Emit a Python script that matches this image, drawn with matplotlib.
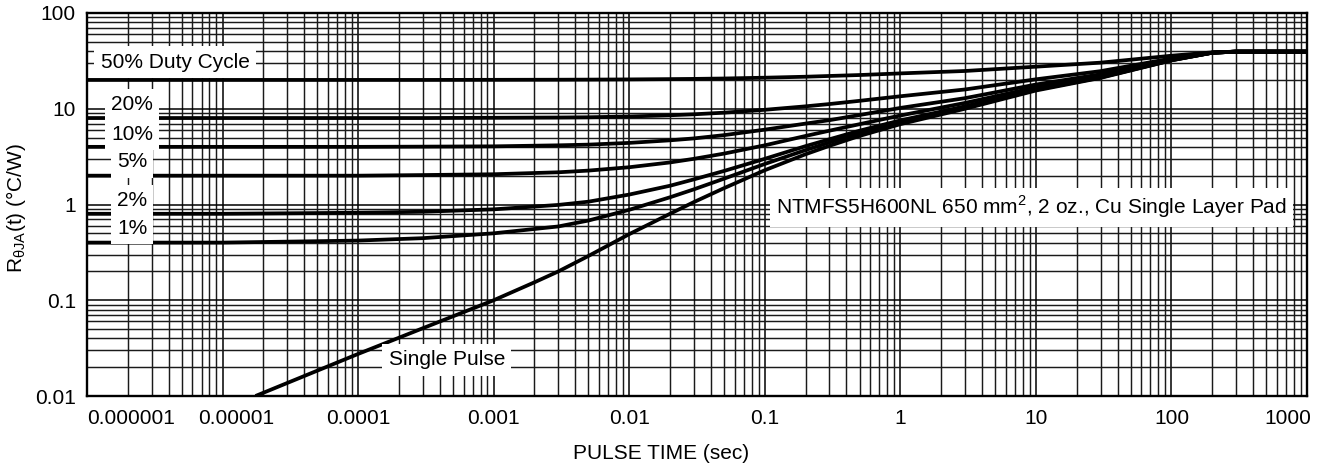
import matplotlib

matplotlib.use("Agg")

import matplotlib.pyplot as plt
import matplotlib.transforms as mtransforms
import numpy as np
from matplotlib.ticker import FixedLocator, LogLocator, NullFormatter

plt.rcParams["font.family"] = ["Liberation Sans", "DejaVu Sans"]
plt.rcParams["mathtext.fontset"] = "custom"
plt.rcParams["mathtext.rm"] = "Liberation Sans"

# ---------- data ----------
# pulse time (sec) for the duty cycle curves
t_duty = [1e-6, 1e-5, 1e-4, 3e-4, 1e-3, 3e-3, 5e-3, 1e-2, 2e-2, 3e-2, 5e-2, 0.1, 0.2, 0.3, 0.5,
          1, 3, 10, 30, 100, 200, 300, 1000]

r_50 = [20, 20, 20, 20, 20.05, 20.1, 20.15, 20.25, 20.4, 20.5, 20.7, 21.1, 21.6, 22.0, 22.5,
        23.4, 24.8, 27.5, 30.3, 35.8, 38.8, 39.5, 39.5]
r_20 = [8, 8, 8, 8, 8.05, 8.1, 8.15, 8.3, 8.55, 8.75, 9.1, 9.75, 10.6, 11.2, 12.1,
        13.5, 15.9, 20.3, 24.7, 33.5, 38.5, 39.5, 39.5]
r_10 = [4, 4, 4, 4.02, 4.05, 4.15, 4.22, 4.4, 4.68, 4.9, 5.3, 6.05, 7.0, 7.6, 8.6,
        10.2, 12.9, 17.9, 22.9, 32.8, 38.5, 39.5, 39.5]
r_5 = [2, 2, 2, 2.03, 2.07, 2.17, 2.26, 2.45, 2.75, 3.0, 3.4, 4.15, 5.2, 5.9, 6.9,
       8.5, 11.5, 16.7, 21.9, 32.4, 38.5, 39.5, 39.5]
r_2 = [0.8, 0.8, 0.82, 0.84, 0.89, 0.99, 1.07, 1.27, 1.57, 1.83, 2.24, 3.0, 4.07, 4.8, 5.9,
       7.55, 10.6, 16, 21.4, 32.2, 38.5, 39.5, 39.5]
r_1 = [0.4, 0.4, 0.42, 0.445, 0.5, 0.59, 0.68, 0.88, 1.19, 1.44, 1.86, 2.65, 3.7, 4.45, 5.5,
       7.2, 10.2, 15.8, 21.2, 32.1, 38.5, 39.5, 39.5]

# single pulse curve
t_single = [1.75e-5, 1e-4, 3e-4, 1e-3, 2e-3, 3e-3, 5e-3, 1e-2, 2e-2, 3e-2, 5e-2, 0.1, 0.2, 0.3, 0.5,
            1, 3, 10, 30, 100, 200, 300, 1000]
r_single = [0.01, 0.0275, 0.051, 0.1, 0.154, 0.2, 0.29, 0.49, 0.8, 1.06, 1.48, 2.28, 3.35, 4.1, 5.2,
            6.9, 10, 15.5, 21, 32, 38.5, 39.5, 39.5]

x_ticks = [1e-6, 1e-5, 1e-4, 1e-3, 1e-2, 1e-1, 1, 10, 100, 1000]
x_tick_labels = ["0.000001", "0.00001", "0.0001", "0.001", "0.01", "0.1", "1", "10", "100", "1000"]
y_ticks = [0.01, 0.1, 1, 10, 100]
y_tick_labels = ["0.01", "0.1", "1", "10", "100"]

duty_series = [r_50, r_20, r_10, r_5, r_2, r_1]

# label text, position in axes fraction
curve_labels = [
    ("50% Duty Cycle", 0.0721, 0.872),
    ("20%", 0.0369, 0.760),
    ("10%", 0.0369, 0.684),
    ("5%", 0.0369, 0.611),
    ("2%", 0.0369, 0.510),
    ("1%", 0.0369, 0.437),
    ("Single Pulse", 0.295, 0.094),
    ("NTMFS5H600NL 650 mm$^{\\mathregular{2}}$, 2 oz., Cu Single Layer Pad", 0.774, 0.493),
]


def main() -> None:
    fig = plt.figure(figsize=(13.25, 4.7), dpi=100)
    ax = fig.add_axes([87 / 1325, 74 / 470, 1220 / 1325, 383 / 470])
    ax.set_xscale("log")
    ax.set_yscale("log")
    ax.set_xlim(1e-6, 1000)
    ax.set_ylim(0.01, 100)

    # grid: every decade plus 2..9 subdivisions
    ax.xaxis.set_major_locator(FixedLocator(x_ticks))
    ax.yaxis.set_major_locator(FixedLocator(y_ticks))
    ax.xaxis.set_minor_locator(LogLocator(base=10, subs=np.arange(2, 10), numticks=20))
    ax.yaxis.set_minor_locator(LogLocator(base=10, subs=np.arange(2, 10), numticks=20))
    ax.xaxis.set_minor_formatter(NullFormatter())
    ax.yaxis.set_minor_formatter(NullFormatter())
    ax.grid(True, which="major", color="black", linewidth=1.1, zorder=1)
    ax.grid(True, which="minor", color="#1a1a1a", linewidth=1.05, zorder=1)
    ax.set_axisbelow(True)
    ax.tick_params(which="both", length=0, labelsize=15)
    ax.tick_params(axis="y", pad=8)
    ax.tick_params(axis="x", pad=9)

    ax.set_xticks(x_ticks)
    ax.set_xticklabels(x_tick_labels)
    ax.set_yticks(y_ticks)
    ax.set_yticklabels(y_tick_labels)

    for spine in ax.spines.values():
        spine.set_linewidth(1.7)
        spine.set_zorder(5)

    for r in duty_series:
        ax.plot(t_duty, r, color="black", linewidth=2.7, solid_capstyle="butt",
                solid_joinstyle="round", zorder=3)
    ax.plot(t_single, r_single, color="black", linewidth=2.7, solid_capstyle="butt",
            solid_joinstyle="round", zorder=3)

    for txt, xf, yf in curve_labels:
        ax.text(xf, yf, txt, transform=ax.transAxes, fontsize=15, ha="center", va="center",
                zorder=4, bbox=dict(facecolor="white", edgecolor="none", pad=4.5))

    # edge tick labels kept inside the figure, like the datasheet
    lbls = ax.get_xticklabels()
    lbls[0].set_ha("left")
    lbls[1].set_transform(lbls[1].get_transform()
                          + mtransforms.ScaledTranslation(14 / 100, 0, fig.dpi_scale_trans))
    lbls[-1].set_ha("right")
    lbls[-1].set_transform(lbls[-1].get_transform()
                           + mtransforms.ScaledTranslation(4 / 100, 0, fig.dpi_scale_trans))

    ax.set_xlabel("PULSE TIME (sec)", fontsize=15)
    ax.xaxis.set_label_coords(0.4705, -0.125)
    ax.set_ylabel("R$_{\\mathregular{θJA}}$(t) (°C/W)", fontsize=15)
    ax.yaxis.set_label_coords(-0.048, 0.49)

    fig.savefig("out.png", dpi=100)


if __name__ == "__main__":
    main()
